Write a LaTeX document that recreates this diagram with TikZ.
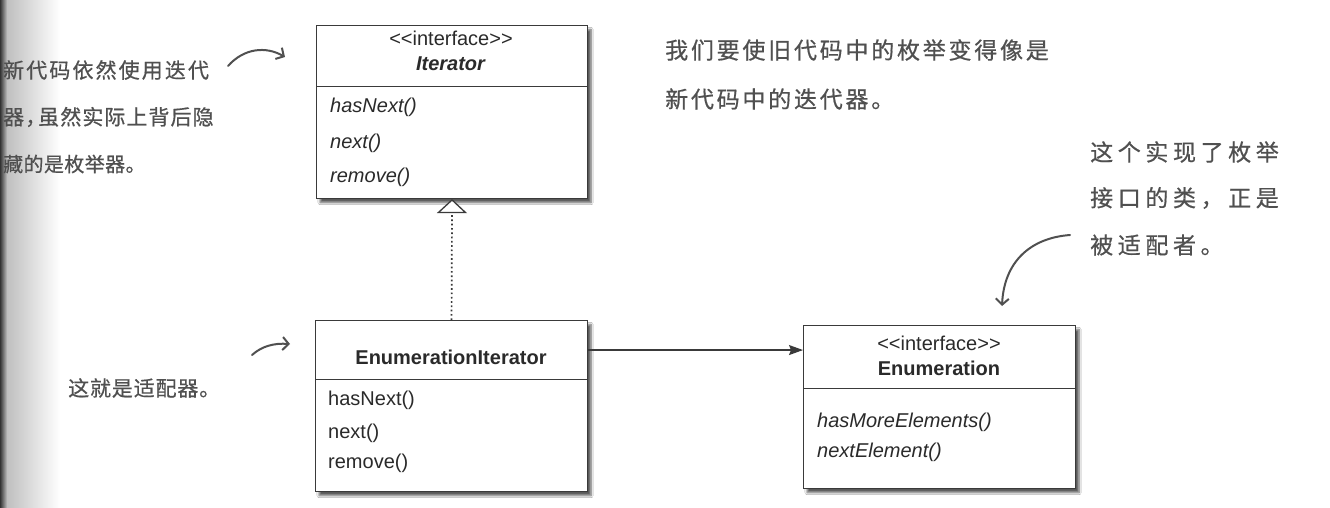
\documentclass[tikz,border=0pt]{standalone}
\usepackage{fontspec}
\setmainfont{Liberation Sans}
\newfontfamily\cjk[FakeBold=0.6]{Noto Sans CJK SC}
\usetikzlibrary{arrows.meta,shadows.blur,calc}
\definecolor{linec}{HTML}{3A3A3A}
\definecolor{txt}{HTML}{2A2A2A}
\definecolor{hand}{HTML}{505050}
\tikzset{
  umlbox/.style={rectangle, draw=linec, line width=1.1pt, fill=white, inner sep=0pt, anchor=north west,
    blur shadow={shadow xshift=3.5pt, shadow yshift=-4pt, shadow blur steps=6, shadow opacity=65}},
  part/.style={rectangle, draw=linec, line width=1.1pt, inner sep=0pt, anchor=north west},
  umltext/.style={inner sep=0pt, text=txt, font=\fontsize{20}{24}\selectfont},
  meth/.style={umltext, anchor=west},
  cn/.style n args={2}{inner sep=0pt, anchor=west, text=hand,
    font=\cjk\fontsize{#1}{#1}\selectfont\addfontfeature{LetterSpace=#2}},
  handarrow/.style={draw=hand, line width=2pt, line cap=round,
    -{Straight Barb[length=6pt,width=13pt,line width=2pt]}},
  assoc/.style={draw=linec, line width=1.3pt, -{Stealth[length=14pt,width=10pt,inset=2pt]}},
  realize/.style={draw=linec, line width=1.7pt, dash pattern=on 1.7pt off 2.6pt,
    -{Triangle[length=14pt,width=30pt,fill=white,line width=1.3pt]}}
}
\begin{document}
\begin{tikzpicture}[x=1pt,y=-1pt]
\useasboundingbox (0,0) rectangle (1330,508);
\fill[white] (0,0) rectangle (1330,508);
% book gutter shading
\shade[left color=black!80, right color=black!25] (0,0) rectangle (7,508);
\shade[left color=black!25, right color=white] (7,0) rectangle (60,508);

% ---------- Iterator ----------
\node[umlbox, minimum width=271pt, minimum height=173pt] (it) at (316,25) {};
\node[part, minimum width=271pt, minimum height=61pt] (itT) at (316,25) {};
\node[part, minimum width=271pt, minimum height=112pt] (itM) at (316,86) {};
\node[umltext] (itS) at (451,38) {<\kern0pt<interface>\kern0pt>};
\node[umltext] (itN) at (451,64) {\textbf{\textit{Iterator}}};
\node[meth] (it1) at (330,107) {\textit{hasNext()}};
\node[meth] (it2) at (330,143) {\textit{next()}};
\node[meth] (it3) at (330,177) {\textit{remove()}};

% ---------- EnumerationIterator ----------
\node[umlbox, minimum width=272pt, minimum height=171pt] (ei) at (315,320) {};
\node[part, minimum width=272pt, minimum height=59pt] (eiT) at (315,320) {};
\node[part, minimum width=272pt, minimum height=112pt] (eiM) at (315,379) {};
\node[umltext] (eiN) at (451,357) {\textbf{EnumerationIterator}};
\node[meth] (ei1) at (328,400) {hasNext()};
\node[meth] (ei2) at (328,433) {next()};
\node[meth] (ei3) at (328,463) {remove()};

% ---------- Enumeration ----------
\node[umlbox, minimum width=272pt, minimum height=163pt] (en) at (803,325) {};
\node[part, minimum width=272pt, minimum height=63pt] (enT) at (803,325) {};
\node[part, minimum width=272pt, minimum height=100pt] (enM) at (803,388) {};
\node[umltext] (enS) at (939,343) {<\kern0pt<interface>\kern0pt>};
\node[umltext] (enN) at (939,368) {\textbf{Enumeration}};
\node[meth] (en1) at (817,422) {\textit{hasMoreElements()}};
\node[meth] (en2) at (817,452) {\textit{nextElement()}};

% ---------- connectors ----------
\draw[realize] (eiT.north) -- (itM.south);
\draw[assoc] (eiT.east) -- (eiT.east -| enT.west);

% ---------- notes ----------
\node[cn={23}{12}] (t1) at (665,50) {我们要使旧代码中的枚举变得像是};
\node[cn={23}{12}] (t2) at (665,99) {新代码中的迭代器。};

\node[cn={23}{20}] (r1) at (1090,152) {这个实现了枚举};
\node[cn={23}{20}] (r2) at (1090,198) {接口的类，正是};
\node[cn={23}{20}] (r3) at (1090,245) {被适配者。};

\node[cn={21}{4}] (m1) at (68,388) {这就是适配器。};

\node[cn={21}{10}] (l1) at (3,70) {新代码依然使用迭代};
\node[cn={21}{5}] (l2) at (3,117) {器，\kern-8pt 虽然实际上背后隐};
\node[cn={20}{2}] (l3) at (3,164) {藏的是枚举器。};

% ---------- hand-drawn arrows ----------
\coordinate (h1s) at (228,66);
\coordinate (h1e) at (285,57);
\draw[handarrow] (h1s) .. controls (244,48) and (266,46) .. (h1e);

\coordinate (h2s) at (252,355);
\coordinate (h2e) at (290,344);
\draw[handarrow] (h2s) .. controls (262,346) and (274,343) .. (h2e);

\coordinate (h3s) at (1070,235);
\coordinate (h3e) at (1002,306);
\draw[handarrow] (h3s) .. controls (1030,238) and (1004,262) .. (h3e);
\end{tikzpicture}
\end{document}
